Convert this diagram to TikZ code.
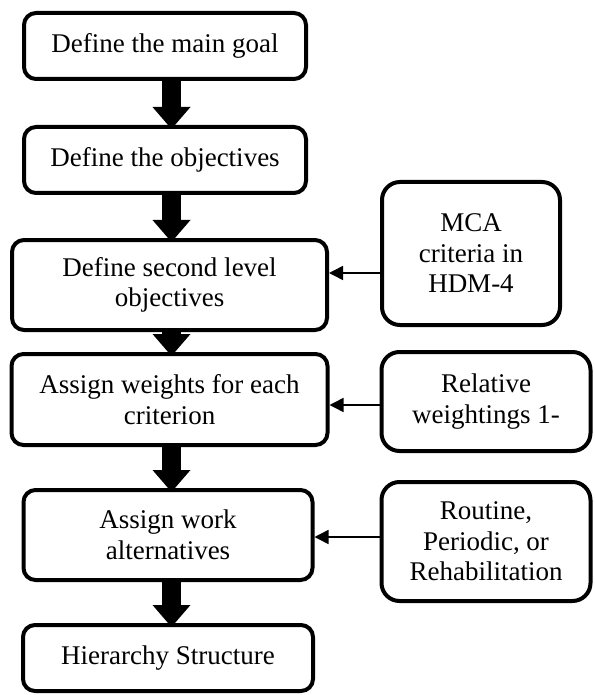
\documentclass[tikz,border=0pt]{standalone}
\usepackage{fontspec}
\setmainfont{Liberation Serif}
\usetikzlibrary{shapes,arrows.meta,positioning,calc}

\begin{document}
\begin{tikzpicture}[
    x=0.5pt, y=0.5pt,
    node distance=21pt,
    stage/.style={rectangle, rounded corners=6pt, draw=black, line width=2pt, align=center, inner sep=0pt, font=\fontsize{13.5}{15.25}\selectfont},
    source/.style={rectangle, rounded corners=9pt, draw=black, line width=2pt, align=center, inner sep=0pt, font=\fontsize{13.5}{15.25}\selectfont},
    flow/.style={-{Triangle[length=11pt, width=19pt, line width=0pt]}, line width=9.5pt, shorten >=-2pt},
    feed/.style={-{Triangle[length=7pt, width=7pt]}, line width=0.75pt}
]
    \useasboundingbox (0,0) rectangle (594,-695);

    \node[stage, minimum width=141pt, minimum height=33pt] (goal) at (165,-46) {Define the main goal};
    \node[stage, minimum width=141pt, minimum height=33pt, below=22pt of goal] (objectives) {Define the objectives};
    \node[stage, minimum width=157.5pt, minimum height=45pt, below=21.5pt of objectives, xshift=2.25pt] (secondLevel) {Define second level\\ objectives};
    \node[stage, minimum width=158pt, minimum height=45.5pt, below=10pt of secondLevel] (weights) {Assign weights for each\\ criterion};
    \node[stage, minimum width=144.5pt, minimum height=45pt, below=20.5pt of weights, xshift=-0.75pt] (work) {Assign work\\ alternatives};
    \node[stage, minimum width=145pt, minimum height=33pt, below=20.5pt of work] (hierarchy) {Hierarchy Structure};

    \node[source, minimum width=89pt, minimum height=71.5pt, right=25.5pt of secondLevel, yshift=15.75pt] (mca) {MCA\\ criteria in\\ HDM-4};
    \node[source, minimum width=104.5pt, minimum height=49.5pt, right=25pt of weights, yshift=-1pt] (relative) {Relative\\ weightings 1-};
    \node[source, minimum width=104.5pt, minimum height=59.5pt, right=32.5pt of work, yshift=-3.25pt] (routine) {Routine,\\ Periodic, or\\ Rehabilitation};

    \coordinate (spine) at (171.5,0);
    \foreach \a/\b in {goal/objectives, objectives/secondLevel, secondLevel/weights, weights/work, work/hierarchy}
        \draw[flow] (\a.south -| spine) -- (\b.north -| spine);

    \draw[feed] ([yshift=-9.75pt]mca.west) -- ([yshift=6pt]secondLevel.east);
    \draw[feed] ([yshift=-1.75pt]relative.west) -- ([yshift=-2.75pt]weights.east);
    \draw[feed] ([yshift=2.25pt]routine.west) -- ([yshift=-1pt]work.east);
\end{tikzpicture}
\end{document}
